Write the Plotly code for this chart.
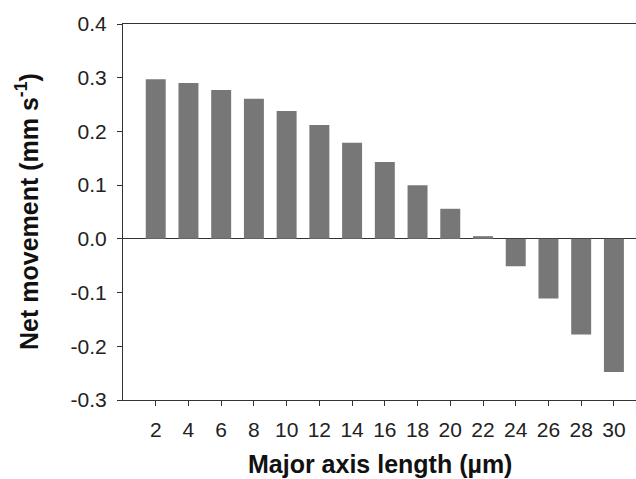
import plotly.graph_objects as go

lengths = [2, 4, 6, 8, 10, 12, 14, 16, 18, 20, 22, 24, 26, 28, 30]
net_movement = [0.297, 0.290, 0.277, 0.261, 0.238, 0.212, 0.179, 0.143, 0.100,
                0.056, 0.005, -0.051, -0.111, -0.178, -0.248]
y_ticks = [-0.3, -0.2, -0.1, 0.0, 0.1, 0.2, 0.3, 0.4]
y_tick_labels = ["-0.3", "-0.2", "-0.1", "0.0", "0.1", "0.2", "0.3", "0.4"]
x_title = "<b>Major axis length (µm)</b>"
y_title = "<b>Net movement (mm s<sup>-1</sup>)</b>"

fig = go.Figure()
fig.add_trace(go.Bar(
    x=lengths, y=net_movement,
    width=1.22,
    marker=dict(color="#777777", line=dict(width=0)),
))

font_family = "Liberation Sans, Arial, sans-serif"
fig.update_layout(
    width=636, height=479,
    margin=dict(l=123, r=0, t=24, b=79),
    paper_bgcolor="white", plot_bgcolor="white",
    showlegend=False,
    font=dict(family=font_family, size=21, color="#222222"),
    xaxis=dict(
        range=[0, 31.35], tickmode="array", tickvals=lengths,
        ticktext=[str(v) for v in lengths],
        showline=True, linecolor="#333333", linewidth=1, mirror=True,
        ticks="outside", ticklen=5, tickcolor="#333333",
        ticklabelstandoff=6,
        showgrid=False, zeroline=False,
    ),
    yaxis=dict(
        range=[-0.3, 0.4], tickmode="array", tickvals=y_ticks,
        ticktext=y_tick_labels,
        showline=True, linecolor="#333333", linewidth=1,
        ticks="outside", ticklen=5, tickcolor="#333333",
        ticklabelstandoff=6,
        showgrid=False, zeroline=True, zerolinecolor="#333333", zerolinewidth=1,
    ),
    annotations=[
        dict(text=x_title, x=0.5, y=0, xref="paper", yref="paper",
             xanchor="center", yanchor="middle", yshift=-64, showarrow=False,
             font=dict(size=25, color="#111111")),
        dict(text=y_title, x=0, y=0.5, xref="paper", yref="paper",
             xanchor="center", yanchor="middle", xshift=-96, textangle=-90,
             showarrow=False, font=dict(size=25, color="#111111")),
    ],
)

fig.write_html("out.html", config={"displayModeBar": False},
               post_script="document.body.style.margin='0';")
